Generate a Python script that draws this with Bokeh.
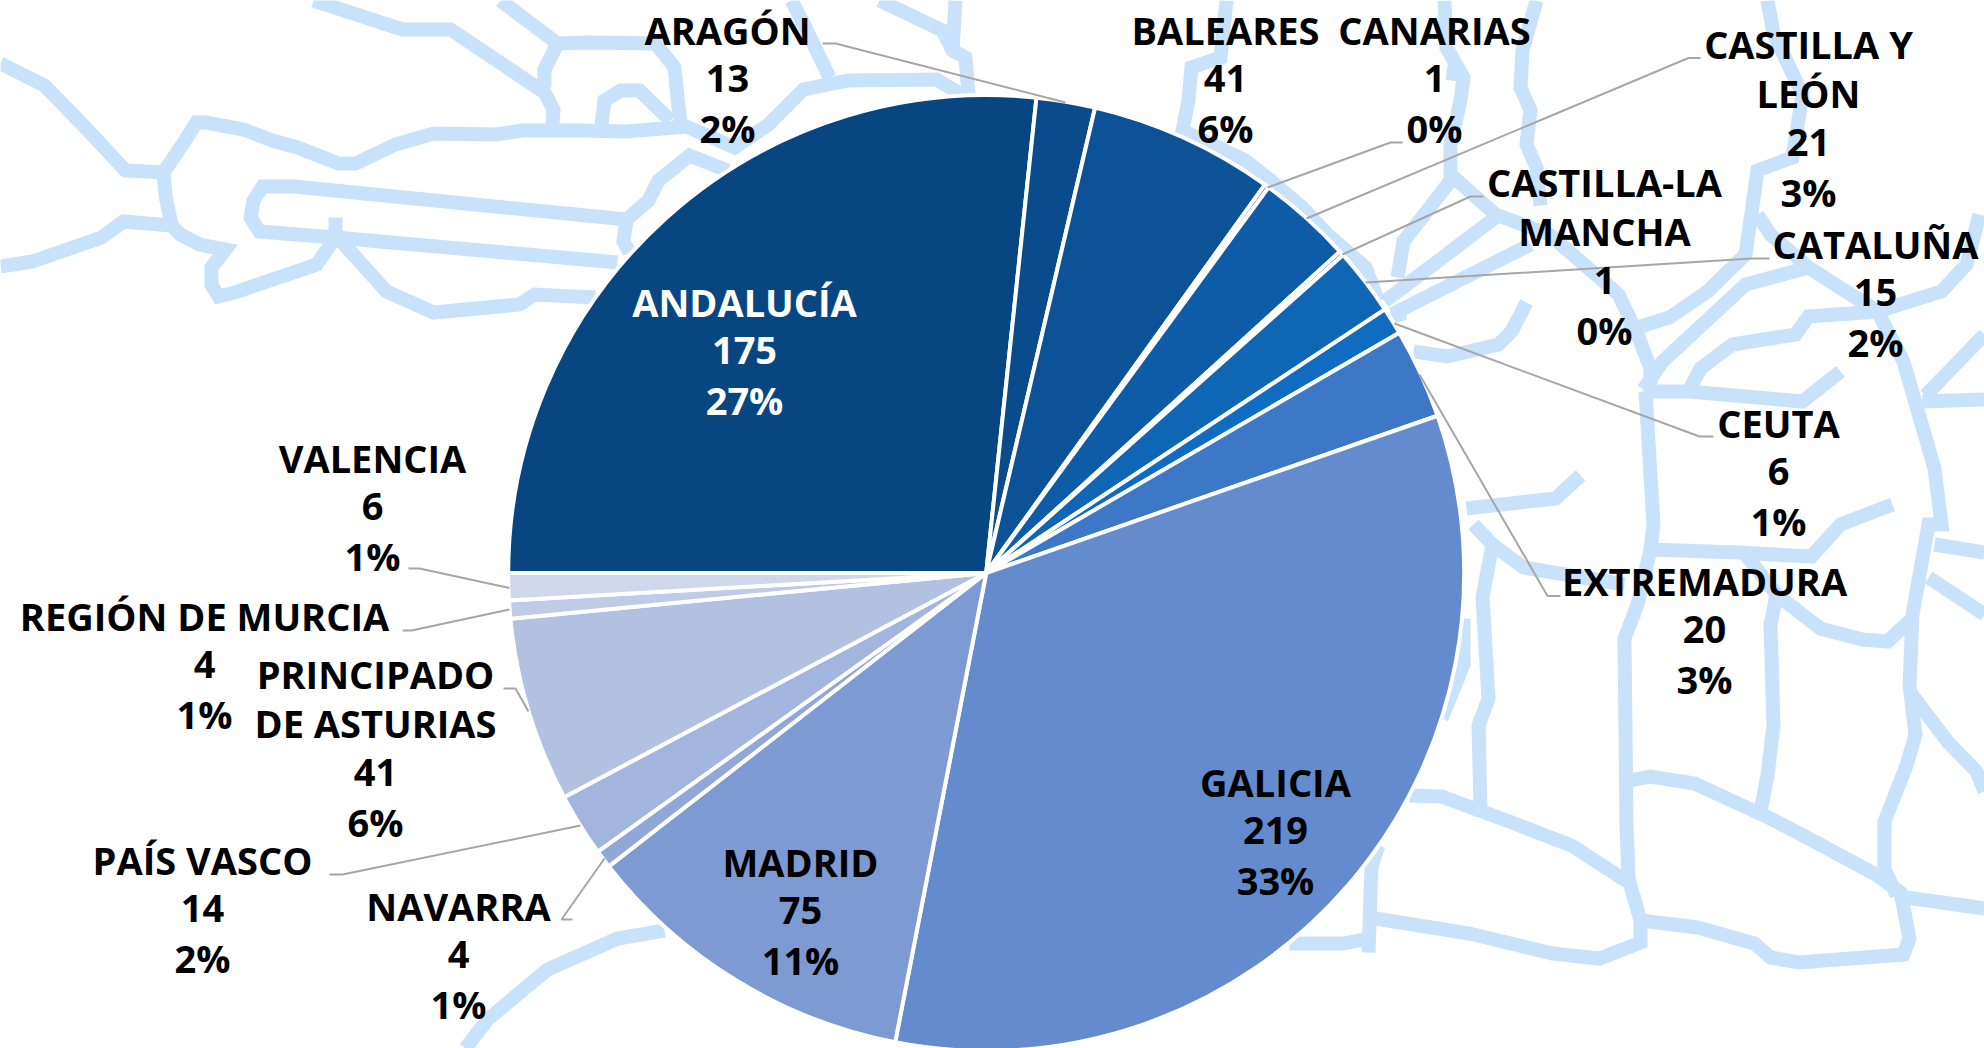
import math
from bokeh.plotting import figure
from bokeh.models import Range1d, ColumnDataSource
from bokeh.core.properties import value
from bokeh.embed import file_html
from bokeh.resources import INLINE

regions = ["ANDALUCÍA", "ARAGÓN", "BALEARES", "CANARIAS", "CASTILLA Y LEÓN", "CASTILLA-LA MANCHA",
           "CATALUÑA", "CEUTA", "EXTREMADURA", "GALICIA", "MADRID", "NAVARRA", "PAÍS VASCO",
           "PRINCIPADO DE ASTURIAS", "REGIÓN DE MURCIA", "VALENCIA"]
counts = [175, 13, 41, 1, 21, 1, 15, 6, 20, 219, 75, 4, 14, 41, 4, 6]
colors = ["#084681", "#0a4c8b", "#0c5296", "#0c569e", "#0e5ba8", "#0f60ae", "#0f66b5", "#0f6cc0",
          "#3c78c6", "#658bcf", "#7d9ad2", "#8fa8d8", "#a2b5de", "#b2c1e2", "#c0cce7", "#cfd7ec"]
name_lines = [["ANDALUCÍA"], ["ARAGÓN"], ["BALEARES"], ["CANARIAS"], ["CASTILLA Y", "LEÓN"],
              ["CASTILLA-LA", "MANCHA"], ["CATALUÑA"], ["CEUTA"], ["EXTREMADURA"], ["GALICIA"],
              ["MADRID"], ["NAVARRA"], ["PAÍS VASCO"], ["PRINCIPADO", "DE ASTURIAS"],
              ["REGIÓN DE MURCIA"], ["VALENCIA"]]

PAGE_H = 1048
W, H = 1984, 1048
FONT = "Open Sans"
FS = "38px"
LH = 49.4
CX, CY, R = 985.7, 572.5, 478

# label block: centre x and first line centre y, page pixels
label_pos = [(744, 301), (727, 29), (1225, 29), (1434, 29), (1808, 43), (1604, 181), (1875, 243),
             (1778, 422), (1704, 580), (1275, 781), (800, 861), (458, 905), (202, 859),
             (375, 673), (204, 615), (372, 457)]
leaders = [None,
           [(822, 43), (835, 43), (1065, 102)], None,
           [(1402, 142), (1390, 142), (1267, 187)],
           [(1700, 57.5), (1688, 57.5), (1306, 218)],
           [(1483, 196), (1470, 196), (1342, 254)],
           [(1769, 258), (1751, 258), (1365, 282)],
           [(1713, 436), (1699, 436), (1394, 323)],
           [(1560, 595.5), (1547, 595.5), (1419, 374)], None, None,
           [(572, 919), (561, 919), (604, 858)],
           [(329, 874), (342, 874), (580, 825)],
           [(503, 688), (515, 688), (528, 711)],
           [(402, 630), (411, 630), (509, 609)],
           [(408, 568), (419, 568), (509, 587.5)]]

# decorative map outlines behind the pie, page pixels
map_lines = [
    [(313, 0), (402, 29), (450, 29), (544, 92), (553, 109), (552, 124)],
    [(0, 63), (44, 85), (82, 124), (125, 170), (163, 172), (165, 195), (171, 225)],
    [(163, 172), (180, 147), (196, 122), (206, 122), (243, 129), (272, 140), (297, 147), (338, 163), (355, 163), (395, 144), (433, 133), (496, 134), (522, 130), (579, 130), (626, 131), (686, 126), (734, 147), (768, 124), (803, 89), (848, 80), (936, 79), (961, 94)],
    [(0, 266), (32, 261), (101, 237), (123, 221), (171, 225), (180, 234), (199, 244), (225, 249), (211, 267), (211, 284), (218, 296), (234, 292), (316, 264), (335, 237), (335, 217)],
    [(617, 262), (335, 237), (259, 231), (250, 217), (253, 200), (262, 186), (294, 186), (626, 219), (648, 200), (658, 180), (689, 155), (727, 170)],
    [(626, 219), (623, 241), (629, 252)],
    [(332, 231), (386, 291), (433, 312), (519, 304), (534, 294), (595, 297)],
    [(500, 0), (557, 43), (588, 42), (655, 43), (674, 67), (677, 97), (680, 124)],
    [(557, 43), (544, 69), (544, 87)],
    [(601, 124), (604, 100), (620, 90), (639, 90), (670, 120)],
    [(791, 0), (803, 23), (829, 77)],
    [(879, 0), (942, 30), (952, 50), (965, 57), (968, 94)],
    [(955, 0), (952, 50)],
    [(1226, 0), (1220, 57), (1191, 67), (1188, 100), (1182, 130), (1245, 160), (1270, 180), (1302, 207), (1327, 234), (1365, 267), (1378, 301)],
    [(1444, 0), (1446, 47), (1463, 77), (1460, 100), (1450, 144), (1450, 180), (1403, 241), (1397, 277)],
    [(1446, 72), (1465, 75)],
    [(1536, 0), (1522, 50), (1520, 87), (1530, 110), (1526, 144), (1536, 167), (1540, 205)],
    [(1450, 174), (1495, 214), (1549, 234), (1618, 294), (1637, 334), (1650, 368), (1650, 390)],
    [(1495, 217), (1384, 301)],
    [(1530, 244), (1397, 311), (1400, 321)],
    [(1526, 302), (1511, 331), (1498, 344), (1447, 356), (1413, 351)],
    [(1767, 0), (1773, 33), (1802, 94), (1792, 157), (1757, 170), (1745, 254), (1707, 291), (1669, 317), (1624, 331)],
    [(1757, 214), (1770, 234), (1808, 267), (1745, 284), (1662, 361), (1643, 389)],
    [(1808, 267), (1877, 311), (1903, 361), (1934, 468), (1941, 524), (1928, 524), (1912, 614), (1909, 684), (1915, 734), (1906, 765), (1884, 821), (1884, 868), (1896, 895)],
    [(1979, 214), (1966, 264), (1941, 291), (1877, 311), (1808, 316), (1795, 334), (1732, 344), (1700, 368), (1688, 391), (1802, 401), (1840, 371)],
    [(1643, 391), (1688, 391)],
    [(1645, 391), (1653, 524), (1650, 549), (1637, 604), (1624, 638), (1626, 825), (1628, 878), (1640, 920), (1640, 942), (1599, 958), (1552, 953), (1469, 933), (1375, 918)],
    [(1922, 401), (1984, 399)],
    [(1925, 395), (1984, 334)],
    [(1466, 508), (1555, 498), (1580, 475)],
    [(1892, 504), (1840, 524), (1811, 556), (1738, 552), (1650, 549)],
    [(1473, 524), (1492, 544), (1482, 597), (1488, 698), (1478, 725), (1480, 808)],
    [(1492, 544), (1523, 567), (1624, 584)],
    [(1745, 554), (1776, 594), (1770, 624), (1773, 725), (1767, 775), (1760, 811)],
    [(1776, 594), (1820, 628), (1862, 639), (1887, 641), (1912, 618)],
    [(1934, 544), (1984, 552)],
    [(1928, 577), (1984, 614)],
    [(1909, 691), (1947, 741), (1976, 771), (1984, 791)],
    [(1624, 781), (1650, 776), (1694, 783), (1770, 818), (1814, 841), (1877, 875), (1900, 892), (1909, 938), (1903, 954), (1798, 962), (1770, 957), (1754, 943), (1697, 927), (1640, 920)],
    [(1409, 795), (1441, 796), (1514, 823), (1571, 845), (1628, 882)],
    [(1378, 845), (1371, 865), (1368, 952)],
    [(1289, 943), (1343, 943), (1368, 938)],
    [(1906, 897), (1984, 908)],
    [(1463, 618), (1463, 664), (1441, 718)],
    [(664, 930), (617, 938), (547, 969), (487, 1019), (465, 1048)],
]

flip = lambda y: PAGE_H - y

p = figure(width=W, height=H, output_backend="svg", toolbar_location=None,
           x_range=Range1d(0, W), y_range=Range1d(0, H),
           min_border=0, outline_line_color=None, background_fill_color="white")
p.axis.visible = False
p.grid.visible = False

p.multi_line([[a for a, _ in l] for l in map_lines], [[flip(b) for _, b in l] for l in map_lines],
             line_color="#c9e2fc", line_width=14, line_join="miter")

total = sum(counts)
angles = [v / total * 2 * math.pi for v in counts]
start, end = [], []
cur = math.pi
for a in angles:
    start.append(cur)
    cur -= a
    end.append(cur)
src = ColumnDataSource(dict(start=start, end=end, color=colors, region=regions, count=counts))
p.wedge(x=CX, y=flip(CY), radius=R, start_angle="start", end_angle="end", direction="clock",
        fill_color="color", line_color="white", line_width=4, source=src)

seg = [l for l in leaders if l]
p.multi_line([[a for a, _ in l] for l in seg], [[flip(b) for _, b in l] for l in seg],
             line_color="#a6a6a6", line_width=2)

tx, ty, tt, tc = [], [], [], []
for i, (names, v) in enumerate(zip(name_lines, counts)):
    rows = names + [str(v), f"{round(v / total * 100)}%"]
    x0, y0 = label_pos[i]
    for j, r in enumerate(rows):
        tx.append(x0)
        ty.append(flip(y0 + j * LH))
        tt.append(r)
        tc.append("white" if i == 0 else "black")
p.text(tx, ty, text=tt, text_color=tc, text_align="center", text_baseline="middle",
       text_font=value(FONT), text_font_size=FS, text_font_style="bold")

open("out.html", "w").write(file_html(p, INLINE))
